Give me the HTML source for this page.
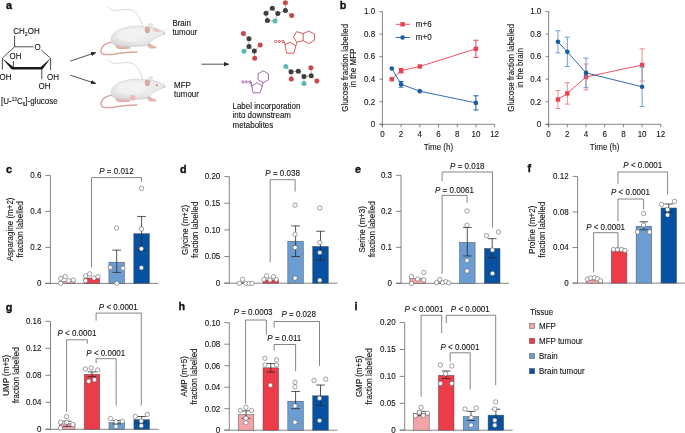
<!DOCTYPE html>
<html><head><meta charset="utf-8"><style>
html,body{margin:0;padding:0;background:#fff;overflow:hidden}
svg{display:block;will-change:transform}
text{font-family:"Liberation Sans",sans-serif;fill:#111;stroke:#111;stroke-width:0.1px}
</style></head><body>
<svg width="685" height="433" viewBox="0 0 685 433">


<defs><radialGradient id="mg" cx="0.5" cy="0.35" r="0.65"><stop offset="0" stop-color="#f0f0f0"/><stop offset="0.7" stop-color="#e8e8e8"/><stop offset="1" stop-color="#d9d9d9"/></radialGradient></defs><g id="mouse">
<path d="M107.7 6.5 C110 9 112 10.4 116 10.4 C120 10.4 124 9.2 129 9.6 C134 10.2 138 14 140 19 C141.5 22 142.3 25 142.8 27.5" fill="none" stroke="#c5cbce" stroke-width="0.7"/>
<path d="M111.8 42.2 C108 42.6 104 44.5 102 47.6 C100.2 50.5 100.6 53.3 103.5 54.2 C107 55 112 54.6 118 53.4 C125 52.2 131 51.8 136.8 51.9" fill="none" stroke="#d6a7a0" stroke-width="1.5" stroke-linecap="round"/>
<path d="M115.5 45 C115.5 47 117 48.8 120 48.9 C123 49 127 49 129.5 48.5 C130.5 48 130.3 47 129 46.3 Z" fill="#e3b6af" stroke="#cc9c95" stroke-width="0.4"/>
<path d="M147.5 44.5 C147.5 46.5 148.5 48 151 48.3 C153 48.5 155.5 48.2 156.5 47.6 C156.5 46.8 155 46.4 153.5 46 C152 45.3 150.5 44.5 149.5 43.5 Z" fill="#e3b6af" stroke="#cc9c95" stroke-width="0.4"/>
<path d="M111.2 41.5 C110.8 37 112.5 34 115.3 32.3 C118 30 121 28.8 124 28 C128 26.8 131 26.3 134 26.2 C138 26.1 141 26.4 144 26.8 C148 27.2 151 27.3 154 27.8 C157 28.5 160 29.5 162 30.8 C163.8 31.8 165.2 32.5 165.4 33 C165.2 33.8 163.5 34.6 161.3 35.4 C158.5 36.5 155.5 37.8 153.1 39.4 C151.2 40.8 150 42.2 149 43.5 C147 45.2 145 46 142.9 46.1 C139 46.4 135 46.6 130.7 46.6 C125 46.6 119 46.2 115.3 45.1 C112.8 44.3 111.5 43 111.2 41.5 Z" fill="url(#mg)" stroke="#c8c8c8" stroke-width="0.55"/>
<path d="M119 31.5 C125 28.5 135 28 142 29.5 C146 31 146.5 36 143 39 C137 42 126 42 120 39.5 C116.5 37.5 116.5 33.5 119 31.5 Z" fill="#f4f4f4" opacity="0.7"/>
<path d="M150 43 C152 40 155 37.8 159 36.5 C161.5 35.6 163.5 35 164.5 34.5" fill="none" stroke="#d8d8d8" stroke-width="0.5"/>
<ellipse cx="150.6" cy="25" rx="2.2" ry="1.5" fill="#e6e6e6" stroke="#c9c9c9" stroke-width="0.4"/>
<ellipse cx="147.4" cy="29.8" rx="2.4" ry="3.1" fill="#dba9a3" stroke="#c7948e" stroke-width="0.4"/>
<path d="M163.5 31 L168 28" stroke="#dadada" stroke-width="0.4"/>
</g>
<path d="M152.5 28.5 C155 28 158.5 29.5 160.5 31.5 C158 32.8 154.5 31.8 152.5 28.5 Z" fill="#e9b8b2" opacity="0.85"/><circle cx="163.8" cy="33.6" r="0.8" fill="#e5b0aa"/>
<use href="#mouse" transform="translate(0,53)"/>
<circle cx="132.7" cy="97.8" r="2.8" fill="#eebcb5"/>
<circle cx="156.8" cy="85.2" r="0.8" fill="#a83a3a"/><circle cx="164.8" cy="87" r="0.7" fill="#e5b0aa"/>
<text transform="translate(172.4,25.6) scale(0.95,1)" font-size="8.4">Brain</text>
<text transform="translate(172.4,34.6) scale(0.95,1)" font-size="8.4">tumour</text>
<text transform="translate(174.1,88.4) scale(0.95,1)" font-size="8.4">MFP</text>
<text transform="translate(174.1,97.2) scale(0.95,1)" font-size="8.4">tumour</text>
<text transform="translate(232.5,108.7) scale(0.95,1)" font-size="8.4">Label incorporation</text>
<text transform="translate(232.5,118.2) scale(0.95,1)" font-size="8.4">into downstream</text>
<text transform="translate(232.5,127.7) scale(0.95,1)" font-size="8.4">metabolites</text>
<!-- arrows -->
<defs><marker id="ah" markerWidth="6" markerHeight="6" refX="5" refY="3" orient="auto" markerUnits="userSpaceOnUse"><path d="M0 0.8 L5.5 3 L0 5.2 Z" fill="#222"/></marker></defs>
<line x1="70.4" y1="61.1" x2="95.8" y2="52.5" stroke="#222" stroke-width="0.8" marker-end="url(#ah)"/>
<line x1="70.4" y1="75.2" x2="95.8" y2="83.6" stroke="#222" stroke-width="0.8" marker-end="url(#ah)"/>
<line x1="201.5" y1="64.2" x2="228.8" y2="64.2" stroke="#222" stroke-width="0.8" marker-end="url(#ah)"/>
<!-- glucose -->
<text transform="translate(13.3,33.8) scale(0.95,1)" font-size="8.4">CH<tspan font-size="5.5" dy="2">2</tspan><tspan dy="-2">OH</tspan></text>
<path d="M14.6 35.8 V46.8 H33.5 M41.3 50 L50.6 58.3 V70 M50.6 58.3 M2.4 58 L14.6 46.8 M2.4 58 V69.5 M13.4 61 V67.5 M41.8 68.3 V79.3" fill="none" stroke="#222" stroke-width="0.8"/>
<path d="M2.2 58.2 L13.4 66.9 L11.6 69.5 Z M12 67.1 H42 V69.5 H12 Z M50.6 58.2 L42.4 69.5 L40.7 67.1 Z" fill="#1a1a1a"/>
<text transform="translate(34.4,50) scale(0.95,1)" font-size="8.4">O</text>
<text transform="translate(9.6,59.3) scale(0.95,1)" font-size="8.4">OH</text>
<text transform="translate(-0.5,80.4) scale(0.95,1)" font-size="8.4">OH</text>
<text transform="translate(47,79.5) scale(0.95,1)" font-size="8.4">OH</text>
<text transform="translate(38.5,89.3) scale(0.95,1)" font-size="8.4">OH</text>
<text transform="translate(1,104.3) scale(0.95,1)" font-size="8.4">[U-<tspan font-size="5" dy="-3">13</tspan><tspan dy="3">C</tspan><tspan font-size="5" dy="2">6</tspan><tspan dy="-2">]-glucose</tspan></text>

<line x1="272.3" y1="8.3" x2="266" y2="13.2" stroke="#b0a8a0" stroke-width="0.9"/><line x1="272.3" y1="8.3" x2="277.8" y2="13.6" stroke="#b0a8a0" stroke-width="0.9"/><line x1="266" y1="13.2" x2="267.4" y2="20.5" stroke="#b0a8a0" stroke-width="0.9"/><line x1="267.4" y1="20.5" x2="275" y2="21.1" stroke="#b0a8a0" stroke-width="0.9"/><line x1="275" y1="21.1" x2="277.8" y2="13.6" stroke="#b0a8a0" stroke-width="0.9"/><line x1="277.8" y1="13.6" x2="285.4" y2="10.4" stroke="#b0a8a0" stroke-width="0.9"/><line x1="285.4" y1="10.4" x2="285.4" y2="2.8" stroke="#b0a8a0" stroke-width="0.9"/><line x1="285.4" y1="10.4" x2="291.7" y2="15.5" stroke="#b0a8a0" stroke-width="0.9"/><circle cx="272.3" cy="8.3" r="2.5" fill="#3e3e3e"/><circle cx="266" cy="13.2" r="2.5" fill="#3e3e3e"/><circle cx="277.8" cy="13.6" r="2.5" fill="#3e3e3e"/><circle cx="267.4" cy="20.5" r="2.5" fill="#3e3e3e"/><circle cx="275" cy="21.1" r="2.5" fill="#5cbab4"/><circle cx="285.4" cy="10.4" r="2.5" fill="#3e3e3e"/><circle cx="285.4" cy="2.8" r="2.5" fill="#c9474a"/><circle cx="291.7" cy="15.5" r="2.5" fill="#c9474a"/><line x1="243.4" y1="33.5" x2="249" y2="38.8" stroke="#b0a8a0" stroke-width="0.9"/><line x1="249" y1="38.8" x2="249" y2="46.4" stroke="#b0a8a0" stroke-width="0.9"/><line x1="249" y1="46.4" x2="243.9" y2="51.3" stroke="#b0a8a0" stroke-width="0.9"/><line x1="249" y1="46.4" x2="254.3" y2="51" stroke="#b0a8a0" stroke-width="0.9"/><line x1="254.3" y1="51" x2="260.2" y2="45" stroke="#b0a8a0" stroke-width="0.9"/><line x1="254.3" y1="51" x2="254.7" y2="58.2" stroke="#b0a8a0" stroke-width="0.9"/><circle cx="243.4" cy="33.5" r="2.5" fill="#c9474a"/><circle cx="249" cy="38.8" r="2.5" fill="#3e3e3e"/><circle cx="249" cy="46.4" r="2.5" fill="#3e3e3e"/><circle cx="243.9" cy="51.3" r="2.5" fill="#5cbab4"/><circle cx="254.3" cy="51" r="2.5" fill="#3e3e3e"/><circle cx="260.2" cy="45" r="2.5" fill="#c9474a"/><circle cx="254.7" cy="58.2" r="2.5" fill="#c9474a"/><line x1="285.8" y1="66.6" x2="291" y2="71.8" stroke="#b0a8a0" stroke-width="0.9"/><line x1="291" y1="71.8" x2="291.3" y2="79" stroke="#b0a8a0" stroke-width="0.9"/><line x1="291" y1="71.8" x2="298.3" y2="71.3" stroke="#b0a8a0" stroke-width="0.9"/><line x1="298.3" y1="71.3" x2="304" y2="76.6" stroke="#b0a8a0" stroke-width="0.9"/><line x1="304" y1="76.6" x2="304" y2="83.4" stroke="#b0a8a0" stroke-width="0.9"/><line x1="304" y1="76.6" x2="311.2" y2="75.8" stroke="#b0a8a0" stroke-width="0.9"/><line x1="311.2" y1="75.8" x2="310.9" y2="67.7" stroke="#b0a8a0" stroke-width="0.9"/><line x1="311.2" y1="75.8" x2="316.9" y2="81.1" stroke="#b0a8a0" stroke-width="0.9"/><circle cx="285.8" cy="66.6" r="2.5" fill="#5cbab4"/><circle cx="291" cy="71.8" r="2.5" fill="#3e3e3e"/><circle cx="291.3" cy="79" r="2.5" fill="#c9474a"/><circle cx="298.3" cy="71.3" r="2.5" fill="#3e3e3e"/><circle cx="304" cy="76.6" r="2.5" fill="#3e3e3e"/><circle cx="304" cy="83.4" r="2.5" fill="#5cbab4"/><circle cx="311.2" cy="75.8" r="2.5" fill="#3e3e3e"/><circle cx="310.9" cy="67.7" r="2.5" fill="#c9474a"/><circle cx="316.9" cy="81.1" r="2.5" fill="#c9474a"/>

<g fill="none" stroke="#d24a44" stroke-width="0.9" stroke-linejoin="round">
<circle cx="275.7" cy="41.5" r="1.1"/><circle cx="279.2" cy="41.5" r="1.1"/><circle cx="282.9" cy="41.5" r="1.1"/>
<path d="M284 41.5 L285 44.3 M285 44.3 L290.2 42.3 L295.9 45.9 L293.9 53.2 L286.6 53.2 Z M295.9 45.9 L296.7 42.3 M296.7 42.3 L293.5 37 L296.7 31.6 L303.2 33.7 L303.2 40.7 Z M303.2 33.7 L308.8 31 L314.5 34.2 L314.5 40.2 L308.8 43.5 L303.2 40.7"/>
</g>
<g fill="none" stroke="#9c5aa8" stroke-width="0.9" stroke-linejoin="round">
<circle cx="242.9" cy="81.9" r="1.1"/><circle cx="246.3" cy="81.9" r="1.1"/><circle cx="249.8" cy="81.9" r="1.1"/>
<path d="M250.9 81.9 L251.5 86.3 L257 82.6 L262.3 86.3 L260.1 92.8 L253 92.8 Z M262.3 86.3 L263.2 82.6 M263.2 82.6 L268.5 79.9 L268.5 73.7 L263.2 70.9 L258.1 73.7 L258.1 79.9 Z"/>
</g>

<text x="5.9" y="8.549999999999999" font-size="10.8" font-weight="bold" style="stroke-width:0.35px">a</text>
<text x="339.8" y="8.549999999999999" font-size="10.8" font-weight="bold" style="stroke-width:0.35px">b</text>
<text x="5.9" y="172.54999999999998" font-size="10.8" font-weight="bold" style="stroke-width:0.35px">c</text>
<text x="179.9" y="172.54999999999998" font-size="10.8" font-weight="bold" style="stroke-width:0.35px">d</text>
<text x="354.9" y="172.54999999999998" font-size="10.8" font-weight="bold" style="stroke-width:0.35px">e</text>
<text x="527.5" y="171.85" font-size="10.8" font-weight="bold" style="stroke-width:0.35px">f</text>
<text x="5.8" y="310.55" font-size="10.8" font-weight="bold" style="stroke-width:0.35px">g</text>
<text x="178.6" y="310.15000000000003" font-size="10.8" font-weight="bold" style="stroke-width:0.35px">h</text>
<text x="354.5" y="310.15000000000003" font-size="10.8" font-weight="bold" style="stroke-width:0.35px">i</text>
<line x1="50.4" y1="175.4" x2="50.4" y2="283.4" stroke="#666" stroke-width="0.8"/>
<line x1="45.4" y1="283.4" x2="158.4" y2="283.4" stroke="#666" stroke-width="0.8"/>
<line x1="45.4" y1="283.4" x2="50.4" y2="283.4" stroke="#666" stroke-width="0.8"/>
<text transform="translate(41.4,286.2) scale(0.91,1)" font-size="8.8" text-anchor="end" >0</text>
<line x1="45.4" y1="247.4" x2="50.4" y2="247.4" stroke="#666" stroke-width="0.8"/>
<text transform="translate(41.4,250.2) scale(0.91,1)" font-size="8.8" text-anchor="end" >0.2</text>
<line x1="45.4" y1="211.4" x2="50.4" y2="211.4" stroke="#666" stroke-width="0.8"/>
<text transform="translate(41.4,214.2) scale(0.91,1)" font-size="8.8" text-anchor="end" >0.4</text>
<line x1="45.4" y1="175.4" x2="50.4" y2="175.4" stroke="#666" stroke-width="0.8"/>
<text transform="translate(41.4,178.2) scale(0.91,1)" font-size="8.8" text-anchor="end" >0.6</text>
<text transform="translate(12.6,229.4) rotate(-90) scale(0.91,1)" font-size="8.8" text-anchor="middle"><tspan x="0" y="0">Asparagine (m+2)</tspan><tspan x="0" y="10">fraction labelled</tspan></text>
<rect x="59.3" y="281.51" width="15.6" height="1.89" fill="#f3a3aa" stroke="#555" stroke-width="0.5"/>
<rect x="84.1" y="278" width="15.6" height="5.4" fill="#ec3b49" stroke="#555" stroke-width="0.5"/>
<rect x="108.9" y="262.16" width="15.6" height="21.24" fill="#6b9dd2" stroke="#555" stroke-width="0.5"/>
<rect x="133.8" y="233.72" width="15.6" height="49.68" fill="#0751a3" stroke="#555" stroke-width="0.5"/>
<line x1="116.7" y1="272.42" x2="116.7" y2="250.1" stroke="#2a2a2a" stroke-width="0.8"/>
<line x1="112.4" y1="272.42" x2="121" y2="272.42" stroke="#2a2a2a" stroke-width="0.8"/>
<line x1="112.4" y1="250.1" x2="121" y2="250.1" stroke="#2a2a2a" stroke-width="0.8"/>
<line x1="141.6" y1="250.46" x2="141.6" y2="216.44" stroke="#2a2a2a" stroke-width="0.8"/>
<line x1="137.3" y1="250.46" x2="145.9" y2="250.46" stroke="#2a2a2a" stroke-width="0.8"/>
<line x1="137.3" y1="216.44" x2="145.9" y2="216.44" stroke="#2a2a2a" stroke-width="0.8"/>
<circle cx="60.7" cy="278.4" r="2.2" fill="#fff" stroke="#555" stroke-width="0.55"/>
<circle cx="65.2" cy="276.6" r="2.2" fill="#fff" stroke="#555" stroke-width="0.55"/>
<circle cx="68.8" cy="280.7" r="2.2" fill="#fff" stroke="#555" stroke-width="0.55"/>
<circle cx="73.3" cy="280.1" r="2.2" fill="#fff" stroke="#555" stroke-width="0.55"/>
<circle cx="60.7" cy="283.3" r="2.2" fill="#fff" stroke="#555" stroke-width="0.55"/>
<circle cx="85.6" cy="276" r="2.2" fill="#fff" stroke="#555" stroke-width="0.55"/>
<circle cx="89.7" cy="273.9" r="2.2" fill="#fff" stroke="#555" stroke-width="0.55"/>
<circle cx="94" cy="278" r="2.2" fill="#fff" stroke="#555" stroke-width="0.55"/>
<circle cx="98" cy="276.6" r="2.2" fill="#fff" stroke="#555" stroke-width="0.55"/>
<circle cx="85.6" cy="280.7" r="2.2" fill="#fff" stroke="#555" stroke-width="0.55"/>
<circle cx="110.3" cy="267.4" r="2.2" fill="#fff" stroke="#555" stroke-width="0.55"/>
<circle cx="123" cy="268.2" r="2.2" fill="#fff" stroke="#555" stroke-width="0.55"/>
<circle cx="116.9" cy="283.3" r="2.2" fill="#fff" stroke="#555" stroke-width="0.55"/>
<circle cx="116.6" cy="228" r="2.2" fill="#fff" stroke="#555" stroke-width="0.55"/>
<circle cx="141.5" cy="188.3" r="2.2" fill="#fff" stroke="#555" stroke-width="0.55"/>
<circle cx="141.5" cy="228.9" r="2.2" fill="#fff" stroke="#555" stroke-width="0.55"/>
<circle cx="141.4" cy="248.8" r="2.2" fill="#fff" stroke="#555" stroke-width="0.55"/>
<circle cx="141.4" cy="267.8" r="2.2" fill="#fff" stroke="#555" stroke-width="0.55"/>
<path d="M91.5 267.5V177.6H141.5V181.6" fill="none" stroke="#666" stroke-width="0.8"/>
<text transform="translate(116.5,173.9) scale(0.91,1)" font-size="8.8" text-anchor="middle" ><tspan font-style="italic">P</tspan> = 0.012</text>
<line x1="229.3" y1="176.6" x2="229.3" y2="283.2" stroke="#666" stroke-width="0.8"/>
<line x1="224.3" y1="283.2" x2="337.3" y2="283.2" stroke="#666" stroke-width="0.8"/>
<line x1="224.3" y1="283.2" x2="229.3" y2="283.2" stroke="#666" stroke-width="0.8"/>
<text transform="translate(220.3,286) scale(0.91,1)" font-size="8.8" text-anchor="end" >0</text>
<line x1="224.3" y1="256.55" x2="229.3" y2="256.55" stroke="#666" stroke-width="0.8"/>
<text transform="translate(220.3,259.35) scale(0.91,1)" font-size="8.8" text-anchor="end" >0.05</text>
<line x1="224.3" y1="229.9" x2="229.3" y2="229.9" stroke="#666" stroke-width="0.8"/>
<text transform="translate(220.3,232.7) scale(0.91,1)" font-size="8.8" text-anchor="end" >0.10</text>
<line x1="224.3" y1="203.25" x2="229.3" y2="203.25" stroke="#666" stroke-width="0.8"/>
<text transform="translate(220.3,206.05) scale(0.91,1)" font-size="8.8" text-anchor="end" >0.15</text>
<line x1="224.3" y1="176.6" x2="229.3" y2="176.6" stroke="#666" stroke-width="0.8"/>
<text transform="translate(220.3,179.4) scale(0.91,1)" font-size="8.8" text-anchor="end" >0.20</text>
<text transform="translate(187.8,229.9) rotate(-90) scale(0.91,1)" font-size="8.8" text-anchor="middle"><tspan x="0" y="0">Glycine (m+2)</tspan><tspan x="0" y="10">fraction labelled</tspan></text>
<rect x="238.2" y="282.67" width="15.6" height="0.53" fill="#f3a3aa" stroke="#555" stroke-width="0.5"/>
<rect x="263" y="280" width="15.6" height="3.2" fill="#ec3b49" stroke="#555" stroke-width="0.5"/>
<rect x="287.8" y="241.2" width="15.6" height="42" fill="#6b9dd2" stroke="#555" stroke-width="0.5"/>
<rect x="312.7" y="246.42" width="15.6" height="36.78" fill="#0751a3" stroke="#555" stroke-width="0.5"/>
<line x1="295.6" y1="256.55" x2="295.6" y2="225.9" stroke="#2a2a2a" stroke-width="0.8"/>
<line x1="291.3" y1="256.55" x2="299.9" y2="256.55" stroke="#2a2a2a" stroke-width="0.8"/>
<line x1="291.3" y1="225.9" x2="299.9" y2="225.9" stroke="#2a2a2a" stroke-width="0.8"/>
<line x1="320.5" y1="260.28" x2="320.5" y2="231.23" stroke="#2a2a2a" stroke-width="0.8"/>
<line x1="316.2" y1="260.28" x2="324.8" y2="260.28" stroke="#2a2a2a" stroke-width="0.8"/>
<line x1="316.2" y1="231.23" x2="324.8" y2="231.23" stroke="#2a2a2a" stroke-width="0.8"/>
<circle cx="239.3" cy="283.4" r="2.2" fill="#fff" stroke="#555" stroke-width="0.55"/>
<circle cx="242.6" cy="279.3" r="2.2" fill="#fff" stroke="#555" stroke-width="0.55"/>
<circle cx="245.9" cy="283.4" r="2.2" fill="#fff" stroke="#555" stroke-width="0.55"/>
<circle cx="249.2" cy="283.4" r="2.2" fill="#fff" stroke="#555" stroke-width="0.55"/>
<circle cx="252.2" cy="283.4" r="2.2" fill="#fff" stroke="#555" stroke-width="0.55"/>
<circle cx="266.6" cy="275.9" r="2.2" fill="#fff" stroke="#555" stroke-width="0.55"/>
<circle cx="273.5" cy="276.7" r="2.2" fill="#fff" stroke="#555" stroke-width="0.55"/>
<circle cx="263.8" cy="279.5" r="2.2" fill="#fff" stroke="#555" stroke-width="0.55"/>
<circle cx="276.3" cy="279.5" r="2.2" fill="#fff" stroke="#555" stroke-width="0.55"/>
<circle cx="270" cy="280" r="2.2" fill="#fff" stroke="#555" stroke-width="0.55"/>
<circle cx="295.1" cy="205.2" r="2.2" fill="#fff" stroke="#555" stroke-width="0.55"/>
<circle cx="295.1" cy="234.3" r="2.2" fill="#fff" stroke="#555" stroke-width="0.55"/>
<circle cx="295.1" cy="247.6" r="2.2" fill="#fff" stroke="#555" stroke-width="0.55"/>
<circle cx="295.1" cy="278.1" r="2.2" fill="#fff" stroke="#555" stroke-width="0.55"/>
<circle cx="319.8" cy="208" r="2.2" fill="#fff" stroke="#555" stroke-width="0.55"/>
<circle cx="319.8" cy="242.6" r="2.2" fill="#fff" stroke="#555" stroke-width="0.55"/>
<circle cx="319.8" cy="252.6" r="2.2" fill="#fff" stroke="#555" stroke-width="0.55"/>
<circle cx="319.8" cy="280.3" r="2.2" fill="#fff" stroke="#555" stroke-width="0.55"/>
<path d="M270.2 262.3V179.7H295.1V191.6" fill="none" stroke="#666" stroke-width="0.8"/>
<text transform="translate(282.6,176.1) scale(0.91,1)" font-size="8.8" text-anchor="middle" ><tspan font-style="italic">P</tspan> = 0.038</text>
<line x1="401" y1="175.3" x2="401" y2="283.3" stroke="#666" stroke-width="0.8"/>
<line x1="396" y1="283.3" x2="509" y2="283.3" stroke="#666" stroke-width="0.8"/>
<line x1="396" y1="283.3" x2="401" y2="283.3" stroke="#666" stroke-width="0.8"/>
<text transform="translate(392,286.1) scale(0.91,1)" font-size="8.8" text-anchor="end" >0</text>
<line x1="396" y1="247.3" x2="401" y2="247.3" stroke="#666" stroke-width="0.8"/>
<text transform="translate(392,250.1) scale(0.91,1)" font-size="8.8" text-anchor="end" >0.1</text>
<line x1="396" y1="211.3" x2="401" y2="211.3" stroke="#666" stroke-width="0.8"/>
<text transform="translate(392,214.1) scale(0.91,1)" font-size="8.8" text-anchor="end" >0.2</text>
<line x1="396" y1="175.3" x2="401" y2="175.3" stroke="#666" stroke-width="0.8"/>
<text transform="translate(392,178.1) scale(0.91,1)" font-size="8.8" text-anchor="end" >0.3</text>
<text transform="translate(364.8,229.3) rotate(-90) scale(0.91,1)" font-size="8.8" text-anchor="middle"><tspan x="0" y="0">Serine (m+3)</tspan><tspan x="0" y="10">fraction labelled</tspan></text>
<rect x="409.9" y="278.4" width="15.6" height="4.9" fill="#f3a3aa" stroke="#555" stroke-width="0.5"/>
<rect x="434.7" y="282.94" width="15.6" height="0.36" fill="#ec3b49" stroke="#555" stroke-width="0.5"/>
<rect x="459.5" y="242.4" width="15.6" height="40.9" fill="#6b9dd2" stroke="#555" stroke-width="0.5"/>
<rect x="484.4" y="248.38" width="15.6" height="34.92" fill="#0751a3" stroke="#555" stroke-width="0.5"/>
<line x1="467.3" y1="255.94" x2="467.3" y2="227.5" stroke="#2a2a2a" stroke-width="0.8"/>
<line x1="463" y1="255.94" x2="471.6" y2="255.94" stroke="#2a2a2a" stroke-width="0.8"/>
<line x1="463" y1="227.5" x2="471.6" y2="227.5" stroke="#2a2a2a" stroke-width="0.8"/>
<line x1="492.2" y1="257.74" x2="492.2" y2="238.66" stroke="#2a2a2a" stroke-width="0.8"/>
<line x1="487.9" y1="257.74" x2="496.5" y2="257.74" stroke="#2a2a2a" stroke-width="0.8"/>
<line x1="487.9" y1="238.66" x2="496.5" y2="238.66" stroke="#2a2a2a" stroke-width="0.8"/>
<circle cx="411.5" cy="276.5" r="2.2" fill="#fff" stroke="#555" stroke-width="0.55"/>
<circle cx="417.6" cy="279.1" r="2.2" fill="#fff" stroke="#555" stroke-width="0.55"/>
<circle cx="423.9" cy="272.5" r="2.2" fill="#fff" stroke="#555" stroke-width="0.55"/>
<circle cx="423.9" cy="280" r="2.2" fill="#fff" stroke="#555" stroke-width="0.55"/>
<circle cx="411.5" cy="283.5" r="2.2" fill="#fff" stroke="#555" stroke-width="0.55"/>
<circle cx="436.6" cy="282.6" r="2.2" fill="#fff" stroke="#555" stroke-width="0.55"/>
<circle cx="439.7" cy="279.5" r="2.2" fill="#fff" stroke="#555" stroke-width="0.55"/>
<circle cx="442.7" cy="282.6" r="2.2" fill="#fff" stroke="#555" stroke-width="0.55"/>
<circle cx="445.8" cy="281.7" r="2.2" fill="#fff" stroke="#555" stroke-width="0.55"/>
<circle cx="448.9" cy="283" r="2.2" fill="#fff" stroke="#555" stroke-width="0.55"/>
<circle cx="467" cy="211" r="2.2" fill="#fff" stroke="#555" stroke-width="0.55"/>
<circle cx="467" cy="225.1" r="2.2" fill="#fff" stroke="#555" stroke-width="0.55"/>
<circle cx="467" cy="260.5" r="2.2" fill="#fff" stroke="#555" stroke-width="0.55"/>
<circle cx="467" cy="271" r="2.2" fill="#fff" stroke="#555" stroke-width="0.55"/>
<circle cx="486.5" cy="235.6" r="2.2" fill="#fff" stroke="#555" stroke-width="0.55"/>
<circle cx="498.5" cy="232" r="2.2" fill="#fff" stroke="#555" stroke-width="0.55"/>
<circle cx="492.5" cy="250" r="2.2" fill="#fff" stroke="#555" stroke-width="0.55"/>
<circle cx="492.5" cy="273.4" r="2.2" fill="#fff" stroke="#555" stroke-width="0.55"/>
<path d="M442.1 181V172H492.5V227.5" fill="none" stroke="#666" stroke-width="0.8"/>
<text transform="translate(467.3,169) scale(0.91,1)" font-size="8.8" text-anchor="middle" ><tspan font-style="italic">P</tspan> = 0.018</text>
<path d="M442.1 273.5V195.4H467V202.9" fill="none" stroke="#666" stroke-width="0.8"/>
<text transform="translate(454.5,192.7) scale(0.91,1)" font-size="8.8" text-anchor="middle" ><tspan font-style="italic">P</tspan> = 0.0061</text>
<line x1="577.6" y1="176.42" x2="577.6" y2="283.1" stroke="#666" stroke-width="0.8"/>
<line x1="572.6" y1="283.1" x2="685" y2="283.1" stroke="#666" stroke-width="0.8"/>
<line x1="572.6" y1="283.1" x2="577.6" y2="283.1" stroke="#666" stroke-width="0.8"/>
<text transform="translate(568.6,285.9) scale(0.91,1)" font-size="8.8" text-anchor="end" >0</text>
<line x1="572.6" y1="247.54" x2="577.6" y2="247.54" stroke="#666" stroke-width="0.8"/>
<text transform="translate(568.6,250.34) scale(0.91,1)" font-size="8.8" text-anchor="end" >0.04</text>
<line x1="572.6" y1="211.98" x2="577.6" y2="211.98" stroke="#666" stroke-width="0.8"/>
<text transform="translate(568.6,214.78) scale(0.91,1)" font-size="8.8" text-anchor="end" >0.08</text>
<line x1="572.6" y1="176.42" x2="577.6" y2="176.42" stroke="#666" stroke-width="0.8"/>
<text transform="translate(568.6,179.22) scale(0.91,1)" font-size="8.8" text-anchor="end" >0.12</text>
<text transform="translate(535,229.76) rotate(-90) scale(0.91,1)" font-size="8.8" text-anchor="middle"><tspan x="0" y="0">Proline (m+2)</tspan><tspan x="0" y="9.6">fraction labelled</tspan></text>
<rect x="586.5" y="279.99" width="15.6" height="3.11" fill="#f3a3aa" stroke="#555" stroke-width="0.5"/>
<rect x="611.3" y="250.65" width="15.6" height="32.45" fill="#ec3b49" stroke="#555" stroke-width="0.5"/>
<rect x="636.1" y="226.2" width="15.6" height="56.9" fill="#6b9dd2" stroke="#555" stroke-width="0.5"/>
<rect x="661" y="207.98" width="15.6" height="75.12" fill="#0751a3" stroke="#555" stroke-width="0.5"/>
<line x1="643.9" y1="229.76" x2="643.9" y2="221.76" stroke="#2a2a2a" stroke-width="0.8"/>
<line x1="639.6" y1="229.76" x2="648.2" y2="229.76" stroke="#2a2a2a" stroke-width="0.8"/>
<line x1="639.6" y1="221.76" x2="648.2" y2="221.76" stroke="#2a2a2a" stroke-width="0.8"/>
<line x1="668.8" y1="211.98" x2="668.8" y2="203.98" stroke="#2a2a2a" stroke-width="0.8"/>
<line x1="664.5" y1="211.98" x2="673.1" y2="211.98" stroke="#2a2a2a" stroke-width="0.8"/>
<line x1="664.5" y1="203.98" x2="673.1" y2="203.98" stroke="#2a2a2a" stroke-width="0.8"/>
<circle cx="587.3" cy="279.1" r="2.2" fill="#fff" stroke="#555" stroke-width="0.55"/>
<circle cx="590.8" cy="278" r="2.2" fill="#fff" stroke="#555" stroke-width="0.55"/>
<circle cx="594.3" cy="277.8" r="2.2" fill="#fff" stroke="#555" stroke-width="0.55"/>
<circle cx="597.4" cy="278.8" r="2.2" fill="#fff" stroke="#555" stroke-width="0.55"/>
<circle cx="600.5" cy="280.8" r="2.2" fill="#fff" stroke="#555" stroke-width="0.55"/>
<circle cx="613.5" cy="249.5" r="2.2" fill="#fff" stroke="#555" stroke-width="0.55"/>
<circle cx="617.5" cy="249.5" r="2.2" fill="#fff" stroke="#555" stroke-width="0.55"/>
<circle cx="621.5" cy="249.5" r="2.2" fill="#fff" stroke="#555" stroke-width="0.55"/>
<circle cx="625" cy="250.5" r="2.2" fill="#fff" stroke="#555" stroke-width="0.55"/>
<circle cx="643.6" cy="213.5" r="2.2" fill="#fff" stroke="#555" stroke-width="0.55"/>
<circle cx="637.6" cy="232" r="2.2" fill="#fff" stroke="#555" stroke-width="0.55"/>
<circle cx="649.6" cy="232" r="2.2" fill="#fff" stroke="#555" stroke-width="0.55"/>
<circle cx="643.6" cy="225" r="2.2" fill="#fff" stroke="#555" stroke-width="0.55"/>
<circle cx="661.6" cy="204.4" r="2.2" fill="#fff" stroke="#555" stroke-width="0.55"/>
<circle cx="674.5" cy="201.4" r="2.2" fill="#fff" stroke="#555" stroke-width="0.55"/>
<circle cx="667.6" cy="209.5" r="2.2" fill="#fff" stroke="#555" stroke-width="0.55"/>
<circle cx="667.6" cy="215" r="2.2" fill="#fff" stroke="#555" stroke-width="0.55"/>
<path d="M593.6 272.5V232.7H618V248.6" fill="none" stroke="#666" stroke-width="0.8"/>
<text transform="translate(605.6,230.3) scale(0.91,1)" font-size="8.8" text-anchor="middle" ><tspan font-style="italic">P</tspan> &lt; 0.0001</text>
<path d="M618 221V199H643.6V209.5" fill="none" stroke="#666" stroke-width="0.8"/>
<text transform="translate(630.5,195.1) scale(0.91,1)" font-size="8.8" text-anchor="middle" ><tspan font-style="italic">P</tspan> &lt; 0.0001</text>
<path d="M618 184V172H667.6V194.5" fill="none" stroke="#666" stroke-width="0.8"/>
<text transform="translate(642.8,168.1) scale(0.91,1)" font-size="8.8" text-anchor="middle" ><tspan font-style="italic">P</tspan> &lt; 0.0001</text>
<line x1="50.5" y1="321.3" x2="50.5" y2="429.3" stroke="#666" stroke-width="0.8"/>
<line x1="45.5" y1="429.3" x2="158.5" y2="429.3" stroke="#666" stroke-width="0.8"/>
<line x1="45.5" y1="429.3" x2="50.5" y2="429.3" stroke="#666" stroke-width="0.8"/>
<text transform="translate(41.5,432.1) scale(0.91,1)" font-size="8.8" text-anchor="end" >0</text>
<line x1="45.5" y1="402.3" x2="50.5" y2="402.3" stroke="#666" stroke-width="0.8"/>
<text transform="translate(41.5,405.1) scale(0.91,1)" font-size="8.8" text-anchor="end" >0.04</text>
<line x1="45.5" y1="375.3" x2="50.5" y2="375.3" stroke="#666" stroke-width="0.8"/>
<text transform="translate(41.5,378.1) scale(0.91,1)" font-size="8.8" text-anchor="end" >0.08</text>
<line x1="45.5" y1="348.3" x2="50.5" y2="348.3" stroke="#666" stroke-width="0.8"/>
<text transform="translate(41.5,351.1) scale(0.91,1)" font-size="8.8" text-anchor="end" >0.12</text>
<line x1="45.5" y1="321.3" x2="50.5" y2="321.3" stroke="#666" stroke-width="0.8"/>
<text transform="translate(41.5,324.1) scale(0.91,1)" font-size="8.8" text-anchor="end" >0.16</text>
<text transform="translate(8.6,375.3) rotate(-90) scale(0.91,1)" font-size="8.8" text-anchor="middle"><tspan x="0" y="0">UMP (m+5)</tspan><tspan x="0" y="10">fraction labelled</tspan></text>
<rect x="59.4" y="423.9" width="15.6" height="5.4" fill="#f3a3aa" stroke="#555" stroke-width="0.5"/>
<rect x="84.2" y="374.29" width="15.6" height="55.01" fill="#ec3b49" stroke="#555" stroke-width="0.5"/>
<rect x="109" y="422.55" width="15.6" height="6.75" fill="#6b9dd2" stroke="#555" stroke-width="0.5"/>
<rect x="133.9" y="419.65" width="15.6" height="9.65" fill="#0751a3" stroke="#555" stroke-width="0.5"/>
<line x1="67.2" y1="426.6" x2="67.2" y2="421.2" stroke="#2a2a2a" stroke-width="0.8"/>
<line x1="62.9" y1="426.6" x2="71.5" y2="426.6" stroke="#2a2a2a" stroke-width="0.8"/>
<line x1="62.9" y1="421.2" x2="71.5" y2="421.2" stroke="#2a2a2a" stroke-width="0.8"/>
<line x1="92" y1="376.65" x2="92" y2="371.93" stroke="#2a2a2a" stroke-width="0.8"/>
<line x1="87.7" y1="376.65" x2="96.3" y2="376.65" stroke="#2a2a2a" stroke-width="0.8"/>
<line x1="87.7" y1="371.93" x2="96.3" y2="371.93" stroke="#2a2a2a" stroke-width="0.8"/>
<line x1="116.8" y1="423.9" x2="116.8" y2="420.53" stroke="#2a2a2a" stroke-width="0.8"/>
<line x1="112.5" y1="423.9" x2="121.1" y2="423.9" stroke="#2a2a2a" stroke-width="0.8"/>
<line x1="112.5" y1="420.53" x2="121.1" y2="420.53" stroke="#2a2a2a" stroke-width="0.8"/>
<line x1="141.7" y1="422.55" x2="141.7" y2="416.48" stroke="#2a2a2a" stroke-width="0.8"/>
<line x1="137.4" y1="422.55" x2="146" y2="422.55" stroke="#2a2a2a" stroke-width="0.8"/>
<line x1="137.4" y1="416.48" x2="146" y2="416.48" stroke="#2a2a2a" stroke-width="0.8"/>
<circle cx="60.5" cy="422.3" r="2.2" fill="#fff" stroke="#555" stroke-width="0.55"/>
<circle cx="66.6" cy="416.6" r="2.2" fill="#fff" stroke="#555" stroke-width="0.55"/>
<circle cx="66.8" cy="422.3" r="2.2" fill="#fff" stroke="#555" stroke-width="0.55"/>
<circle cx="72.9" cy="424.5" r="2.2" fill="#fff" stroke="#555" stroke-width="0.55"/>
<circle cx="60.5" cy="428" r="2.2" fill="#fff" stroke="#555" stroke-width="0.55"/>
<circle cx="85.4" cy="369" r="2.2" fill="#fff" stroke="#555" stroke-width="0.55"/>
<circle cx="91.2" cy="368" r="2.2" fill="#fff" stroke="#555" stroke-width="0.55"/>
<circle cx="97.7" cy="370" r="2.2" fill="#fff" stroke="#555" stroke-width="0.55"/>
<circle cx="88.7" cy="381.3" r="2.2" fill="#fff" stroke="#555" stroke-width="0.55"/>
<circle cx="94.5" cy="379.7" r="2.2" fill="#fff" stroke="#555" stroke-width="0.55"/>
<circle cx="110.5" cy="418.5" r="2.2" fill="#fff" stroke="#555" stroke-width="0.55"/>
<circle cx="116" cy="421.7" r="2.2" fill="#fff" stroke="#555" stroke-width="0.55"/>
<circle cx="122.4" cy="421.3" r="2.2" fill="#fff" stroke="#555" stroke-width="0.55"/>
<circle cx="116" cy="426.5" r="2.2" fill="#fff" stroke="#555" stroke-width="0.55"/>
<circle cx="135.3" cy="416.5" r="2.2" fill="#fff" stroke="#555" stroke-width="0.55"/>
<circle cx="147.3" cy="414.5" r="2.2" fill="#fff" stroke="#555" stroke-width="0.55"/>
<circle cx="141.3" cy="425.7" r="2.2" fill="#fff" stroke="#555" stroke-width="0.55"/>
<circle cx="141.3" cy="421" r="2.2" fill="#fff" stroke="#555" stroke-width="0.55"/>
<path d="M96.1 320.7V313.1H141.3V405.5" fill="none" stroke="#666" stroke-width="0.8"/>
<text transform="translate(118.3,310.2) scale(0.91,1)" font-size="8.8" text-anchor="middle" ><tspan font-style="italic">P</tspan> &lt; 0.0001</text>
<path d="M66.6 412V339.8H87.3V343.8" fill="none" stroke="#666" stroke-width="0.8"/>
<text transform="translate(76.9,336.2) scale(0.91,1)" font-size="8.8" text-anchor="middle" ><tspan font-style="italic">P</tspan> &lt; 0.0001</text>
<path d="M96.1 363V358.7H116.2V405.5" fill="none" stroke="#666" stroke-width="0.8"/>
<text transform="translate(105.8,356.3) scale(0.91,1)" font-size="8.8" text-anchor="middle" ><tspan font-style="italic">P</tspan> &lt; 0.0001</text>
<line x1="229.3" y1="322.7" x2="229.3" y2="430.2" stroke="#666" stroke-width="0.8"/>
<line x1="224.3" y1="430.2" x2="337.3" y2="430.2" stroke="#666" stroke-width="0.8"/>
<line x1="224.3" y1="430.2" x2="229.3" y2="430.2" stroke="#666" stroke-width="0.8"/>
<text transform="translate(220.3,433) scale(0.91,1)" font-size="8.8" text-anchor="end" >0</text>
<line x1="224.3" y1="408.7" x2="229.3" y2="408.7" stroke="#666" stroke-width="0.8"/>
<text transform="translate(220.3,411.5) scale(0.91,1)" font-size="8.8" text-anchor="end" >0.02</text>
<line x1="224.3" y1="387.2" x2="229.3" y2="387.2" stroke="#666" stroke-width="0.8"/>
<text transform="translate(220.3,390) scale(0.91,1)" font-size="8.8" text-anchor="end" >0.04</text>
<line x1="224.3" y1="365.7" x2="229.3" y2="365.7" stroke="#666" stroke-width="0.8"/>
<text transform="translate(220.3,368.5) scale(0.91,1)" font-size="8.8" text-anchor="end" >0.06</text>
<line x1="224.3" y1="344.2" x2="229.3" y2="344.2" stroke="#666" stroke-width="0.8"/>
<text transform="translate(220.3,347) scale(0.91,1)" font-size="8.8" text-anchor="end" >0.08</text>
<line x1="224.3" y1="322.7" x2="229.3" y2="322.7" stroke="#666" stroke-width="0.8"/>
<text transform="translate(220.3,325.5) scale(0.91,1)" font-size="8.8" text-anchor="end" >0.10</text>
<text transform="translate(187.1,376.45) rotate(-90) scale(0.91,1)" font-size="8.8" text-anchor="middle"><tspan x="0" y="0">AMP (m+5)</tspan><tspan x="0" y="9.8">fraction labelled</tspan></text>
<rect x="238.2" y="414.61" width="15.6" height="15.59" fill="#f3a3aa" stroke="#555" stroke-width="0.5"/>
<rect x="263" y="367.85" width="15.6" height="62.35" fill="#ec3b49" stroke="#555" stroke-width="0.5"/>
<rect x="287.8" y="401.18" width="15.6" height="29.02" fill="#6b9dd2" stroke="#555" stroke-width="0.5"/>
<rect x="312.7" y="395.8" width="15.6" height="34.4" fill="#0751a3" stroke="#555" stroke-width="0.5"/>
<line x1="246" y1="418.38" x2="246" y2="410.85" stroke="#2a2a2a" stroke-width="0.8"/>
<line x1="241.7" y1="418.38" x2="250.3" y2="418.38" stroke="#2a2a2a" stroke-width="0.8"/>
<line x1="241.7" y1="410.85" x2="250.3" y2="410.85" stroke="#2a2a2a" stroke-width="0.8"/>
<line x1="270.8" y1="372.15" x2="270.8" y2="363.55" stroke="#2a2a2a" stroke-width="0.8"/>
<line x1="266.5" y1="372.15" x2="275.1" y2="372.15" stroke="#2a2a2a" stroke-width="0.8"/>
<line x1="266.5" y1="363.55" x2="275.1" y2="363.55" stroke="#2a2a2a" stroke-width="0.8"/>
<line x1="295.6" y1="408.7" x2="295.6" y2="391.5" stroke="#2a2a2a" stroke-width="0.8"/>
<line x1="291.3" y1="408.7" x2="299.9" y2="408.7" stroke="#2a2a2a" stroke-width="0.8"/>
<line x1="291.3" y1="391.5" x2="299.9" y2="391.5" stroke="#2a2a2a" stroke-width="0.8"/>
<line x1="320.5" y1="405.47" x2="320.5" y2="385.05" stroke="#2a2a2a" stroke-width="0.8"/>
<line x1="316.2" y1="405.47" x2="324.8" y2="405.47" stroke="#2a2a2a" stroke-width="0.8"/>
<line x1="316.2" y1="385.05" x2="324.8" y2="385.05" stroke="#2a2a2a" stroke-width="0.8"/>
<circle cx="240.3" cy="410.5" r="2.2" fill="#fff" stroke="#555" stroke-width="0.55"/>
<circle cx="245.9" cy="407.4" r="2.2" fill="#fff" stroke="#555" stroke-width="0.55"/>
<circle cx="251.5" cy="410.5" r="2.2" fill="#fff" stroke="#555" stroke-width="0.55"/>
<circle cx="245.9" cy="418.2" r="2.2" fill="#fff" stroke="#555" stroke-width="0.55"/>
<circle cx="245.9" cy="422.8" r="2.2" fill="#fff" stroke="#555" stroke-width="0.55"/>
<circle cx="264.9" cy="358.3" r="2.2" fill="#fff" stroke="#555" stroke-width="0.55"/>
<circle cx="276.6" cy="359.9" r="2.2" fill="#fff" stroke="#555" stroke-width="0.55"/>
<circle cx="264.9" cy="365" r="2.2" fill="#fff" stroke="#555" stroke-width="0.55"/>
<circle cx="276.6" cy="365" r="2.2" fill="#fff" stroke="#555" stroke-width="0.55"/>
<circle cx="270.4" cy="385.3" r="2.2" fill="#fff" stroke="#555" stroke-width="0.55"/>
<circle cx="295" cy="382.3" r="2.2" fill="#fff" stroke="#555" stroke-width="0.55"/>
<circle cx="295" cy="386.9" r="2.2" fill="#fff" stroke="#555" stroke-width="0.55"/>
<circle cx="295" cy="405.9" r="2.2" fill="#fff" stroke="#555" stroke-width="0.55"/>
<circle cx="295" cy="422.2" r="2.2" fill="#fff" stroke="#555" stroke-width="0.55"/>
<circle cx="314" cy="380.4" r="2.2" fill="#fff" stroke="#555" stroke-width="0.55"/>
<circle cx="325.7" cy="379.2" r="2.2" fill="#fff" stroke="#555" stroke-width="0.55"/>
<circle cx="319.5" cy="398.2" r="2.2" fill="#fff" stroke="#555" stroke-width="0.55"/>
<circle cx="319.5" cy="420.6" r="2.2" fill="#fff" stroke="#555" stroke-width="0.55"/>
<path d="M245.6 403.7V320H266.4V334.4" fill="none" stroke="#666" stroke-width="0.8"/>
<text transform="translate(253.1,315.3) scale(0.91,1)" font-size="8.8" text-anchor="middle" ><tspan font-style="italic">P</tspan> = 0.0003</text>
<path d="M274.1 327.6V321.5H319.5V366" fill="none" stroke="#666" stroke-width="0.8"/>
<text transform="translate(298.7,316.6) scale(0.91,1)" font-size="8.8" text-anchor="middle" ><tspan font-style="italic">P</tspan> = 0.028</text>
<path d="M274.1 350.6V344.5H295.6V371.2" fill="none" stroke="#666" stroke-width="0.8"/>
<text transform="translate(284.3,341.4) scale(0.91,1)" font-size="8.8" text-anchor="middle" ><tspan font-style="italic">P</tspan> = 0.011</text>
<line x1="404.7" y1="322.6" x2="404.7" y2="430.2" stroke="#666" stroke-width="0.8"/>
<line x1="399.7" y1="430.2" x2="512.7" y2="430.2" stroke="#666" stroke-width="0.8"/>
<line x1="399.7" y1="430.2" x2="404.7" y2="430.2" stroke="#666" stroke-width="0.8"/>
<text transform="translate(395.7,433) scale(0.91,1)" font-size="8.8" text-anchor="end" >0</text>
<line x1="399.7" y1="403.3" x2="404.7" y2="403.3" stroke="#666" stroke-width="0.8"/>
<text transform="translate(395.7,406.1) scale(0.91,1)" font-size="8.8" text-anchor="end" >0.05</text>
<line x1="399.7" y1="376.4" x2="404.7" y2="376.4" stroke="#666" stroke-width="0.8"/>
<text transform="translate(395.7,379.2) scale(0.91,1)" font-size="8.8" text-anchor="end" >0.10</text>
<line x1="399.7" y1="349.5" x2="404.7" y2="349.5" stroke="#666" stroke-width="0.8"/>
<text transform="translate(395.7,352.3) scale(0.91,1)" font-size="8.8" text-anchor="end" >0.15</text>
<line x1="399.7" y1="322.6" x2="404.7" y2="322.6" stroke="#666" stroke-width="0.8"/>
<text transform="translate(395.7,325.4) scale(0.91,1)" font-size="8.8" text-anchor="end" >0.20</text>
<text transform="translate(362,376.4) rotate(-90) scale(0.91,1)" font-size="8.8" text-anchor="middle"><tspan x="0" y="0">GMP (m+5)</tspan><tspan x="0" y="10">fraction labelled</tspan></text>
<rect x="413.6" y="413.52" width="15.6" height="16.68" fill="#f3a3aa" stroke="#555" stroke-width="0.5"/>
<rect x="438.4" y="375.32" width="15.6" height="54.88" fill="#ec3b49" stroke="#555" stroke-width="0.5"/>
<rect x="463.2" y="416.48" width="15.6" height="13.72" fill="#6b9dd2" stroke="#555" stroke-width="0.5"/>
<rect x="488.1" y="415.14" width="15.6" height="15.06" fill="#0751a3" stroke="#555" stroke-width="0.5"/>
<line x1="421.4" y1="415.67" x2="421.4" y2="411.37" stroke="#2a2a2a" stroke-width="0.8"/>
<line x1="417.1" y1="415.67" x2="425.7" y2="415.67" stroke="#2a2a2a" stroke-width="0.8"/>
<line x1="417.1" y1="411.37" x2="425.7" y2="411.37" stroke="#2a2a2a" stroke-width="0.8"/>
<line x1="446.2" y1="378.55" x2="446.2" y2="371.02" stroke="#2a2a2a" stroke-width="0.8"/>
<line x1="441.9" y1="378.55" x2="450.5" y2="378.55" stroke="#2a2a2a" stroke-width="0.8"/>
<line x1="441.9" y1="371.02" x2="450.5" y2="371.02" stroke="#2a2a2a" stroke-width="0.8"/>
<line x1="471" y1="420.52" x2="471" y2="411.37" stroke="#2a2a2a" stroke-width="0.8"/>
<line x1="466.7" y1="420.52" x2="475.3" y2="420.52" stroke="#2a2a2a" stroke-width="0.8"/>
<line x1="466.7" y1="411.37" x2="475.3" y2="411.37" stroke="#2a2a2a" stroke-width="0.8"/>
<line x1="495.9" y1="420.52" x2="495.9" y2="409.22" stroke="#2a2a2a" stroke-width="0.8"/>
<line x1="491.6" y1="420.52" x2="500.2" y2="420.52" stroke="#2a2a2a" stroke-width="0.8"/>
<line x1="491.6" y1="409.22" x2="500.2" y2="409.22" stroke="#2a2a2a" stroke-width="0.8"/>
<circle cx="415.4" cy="415.8" r="2.2" fill="#fff" stroke="#555" stroke-width="0.55"/>
<circle cx="419.3" cy="412.3" r="2.2" fill="#fff" stroke="#555" stroke-width="0.55"/>
<circle cx="423.3" cy="415.8" r="2.2" fill="#fff" stroke="#555" stroke-width="0.55"/>
<circle cx="427.5" cy="413.1" r="2.2" fill="#fff" stroke="#555" stroke-width="0.55"/>
<circle cx="421.1" cy="407.4" r="2.2" fill="#fff" stroke="#555" stroke-width="0.55"/>
<circle cx="440.4" cy="365" r="2.2" fill="#fff" stroke="#555" stroke-width="0.55"/>
<circle cx="451.8" cy="366" r="2.2" fill="#fff" stroke="#555" stroke-width="0.55"/>
<circle cx="445.6" cy="373.7" r="2.2" fill="#fff" stroke="#555" stroke-width="0.55"/>
<circle cx="440.4" cy="383.5" r="2.2" fill="#fff" stroke="#555" stroke-width="0.55"/>
<circle cx="451.8" cy="383.5" r="2.2" fill="#fff" stroke="#555" stroke-width="0.55"/>
<circle cx="465" cy="409" r="2.2" fill="#fff" stroke="#555" stroke-width="0.55"/>
<circle cx="476.3" cy="408" r="2.2" fill="#fff" stroke="#555" stroke-width="0.55"/>
<circle cx="471.1" cy="417.6" r="2.2" fill="#fff" stroke="#555" stroke-width="0.55"/>
<circle cx="471.1" cy="425.2" r="2.2" fill="#fff" stroke="#555" stroke-width="0.55"/>
<circle cx="495.7" cy="401.9" r="2.2" fill="#fff" stroke="#555" stroke-width="0.55"/>
<circle cx="494.8" cy="409" r="2.2" fill="#fff" stroke="#555" stroke-width="0.55"/>
<circle cx="494.8" cy="420.3" r="2.2" fill="#fff" stroke="#555" stroke-width="0.55"/>
<circle cx="494.8" cy="425.2" r="2.2" fill="#fff" stroke="#555" stroke-width="0.55"/>
<path d="M421.1 396.7V315.3H441.7V333.1" fill="none" stroke="#666" stroke-width="0.8"/>
<text transform="translate(423.9,312.3) scale(0.91,1)" font-size="8.8" text-anchor="middle" ><tspan font-style="italic">P</tspan> &lt; 0.0001</text>
<path d="M446.3 323V315.3H495.7V385.3" fill="none" stroke="#666" stroke-width="0.8"/>
<text transform="translate(470.3,312.3) scale(0.91,1)" font-size="8.8" text-anchor="middle" ><tspan font-style="italic">P</tspan> &lt; 0.0001</text>
<path d="M450.2 361.4V352.8H470.2V389.6" fill="none" stroke="#666" stroke-width="0.8"/>
<text transform="translate(459.9,349.7) scale(0.91,1)" font-size="8.8" text-anchor="middle" ><tspan font-style="italic">P</tspan> &lt; 0.0001</text>
<text transform="translate(530,315.2) scale(0.95,1)" font-size="8.4">Tissue</text>
<rect x="529.4" y="323.2" width="5.3" height="5.3" fill="#f3a3aa" stroke="#555" stroke-width="0.5"/>
<text transform="translate(539,329) scale(0.95,1)" font-size="8.4">MFP</text>
<rect x="529.4" y="338.3" width="5.3" height="5.3" fill="#ec3b49" stroke="#555" stroke-width="0.5"/>
<text transform="translate(539,344.1) scale(0.95,1)" font-size="8.4">MFP tumour</text>
<rect x="529.4" y="353.4" width="5.3" height="5.3" fill="#6b9dd2" stroke="#555" stroke-width="0.5"/>
<text transform="translate(539,359.2) scale(0.95,1)" font-size="8.4">Brain</text>
<rect x="529.4" y="368.5" width="5.3" height="5.3" fill="#0751a3" stroke="#555" stroke-width="0.5"/>
<text transform="translate(539,374.3) scale(0.95,1)" font-size="8.4">Brain tumour</text>
<line x1="382.4" y1="11.6" x2="382.4" y2="127.3" stroke="#666" stroke-width="0.8"/>
<line x1="379.4" y1="124.3" x2="494.6" y2="124.3" stroke="#666" stroke-width="0.8"/>
<line x1="379.4" y1="124.3" x2="382.4" y2="124.3" stroke="#666" stroke-width="0.8"/>
<text transform="translate(375.1,127.1) scale(0.91,1)" font-size="8.8" text-anchor="end" >0</text>
<line x1="379.4" y1="101.76" x2="382.4" y2="101.76" stroke="#666" stroke-width="0.8"/>
<text transform="translate(375.1,104.56) scale(0.91,1)" font-size="8.8" text-anchor="end" >0.2</text>
<line x1="379.4" y1="79.22" x2="382.4" y2="79.22" stroke="#666" stroke-width="0.8"/>
<text transform="translate(375.1,82.02) scale(0.91,1)" font-size="8.8" text-anchor="end" >0.4</text>
<line x1="379.4" y1="56.68" x2="382.4" y2="56.68" stroke="#666" stroke-width="0.8"/>
<text transform="translate(375.1,59.48) scale(0.91,1)" font-size="8.8" text-anchor="end" >0.6</text>
<line x1="379.4" y1="34.14" x2="382.4" y2="34.14" stroke="#666" stroke-width="0.8"/>
<text transform="translate(375.1,36.94) scale(0.91,1)" font-size="8.8" text-anchor="end" >0.8</text>
<line x1="379.4" y1="11.6" x2="382.4" y2="11.6" stroke="#666" stroke-width="0.8"/>
<text transform="translate(375.1,14.4) scale(0.91,1)" font-size="8.8" text-anchor="end" >1.0</text>
<line x1="382.4" y1="124.3" x2="382.4" y2="127.3" stroke="#666" stroke-width="0.8"/>
<text transform="translate(382.4,136.8) scale(0.91,1)" font-size="8.8" text-anchor="middle" >0</text>
<line x1="401.1" y1="124.3" x2="401.1" y2="127.3" stroke="#666" stroke-width="0.8"/>
<text transform="translate(401.1,136.8) scale(0.91,1)" font-size="8.8" text-anchor="middle" >2</text>
<line x1="419.8" y1="124.3" x2="419.8" y2="127.3" stroke="#666" stroke-width="0.8"/>
<text transform="translate(419.8,136.8) scale(0.91,1)" font-size="8.8" text-anchor="middle" >4</text>
<line x1="438.5" y1="124.3" x2="438.5" y2="127.3" stroke="#666" stroke-width="0.8"/>
<text transform="translate(438.5,136.8) scale(0.91,1)" font-size="8.8" text-anchor="middle" >6</text>
<line x1="457.2" y1="124.3" x2="457.2" y2="127.3" stroke="#666" stroke-width="0.8"/>
<text transform="translate(457.2,136.8) scale(0.91,1)" font-size="8.8" text-anchor="middle" >8</text>
<line x1="475.9" y1="124.3" x2="475.9" y2="127.3" stroke="#666" stroke-width="0.8"/>
<text transform="translate(475.9,136.8) scale(0.91,1)" font-size="8.8" text-anchor="middle" >10</text>
<line x1="494.6" y1="124.3" x2="494.6" y2="127.3" stroke="#666" stroke-width="0.8"/>
<text transform="translate(494.6,136.8) scale(0.91,1)" font-size="8.8" text-anchor="middle" >12</text>
<text transform="translate(438.4,150) scale(0.91,1)" font-size="8.8" text-anchor="middle" >Time (h)</text>
<text transform="translate(347.5,67.95) rotate(-90) scale(0.91,1)" font-size="8.8" text-anchor="middle"><tspan x="0" y="0">Glucose fraction labelled</tspan><tspan x="0" y="8.5">in the MFP</tspan></text>
<polyline points="391.75,79.22 401.1,70.65 419.8,66.48 475.9,48.79" fill="none" stroke="#e8414f" stroke-width="0.9"/>
<line x1="401.1" y1="72.91" x2="401.1" y2="68.4" stroke="#e8414f" stroke-width="1"/>
<line x1="398.6" y1="72.91" x2="403.6" y2="72.91" stroke="#e8414f" stroke-width="1"/>
<line x1="398.6" y1="68.4" x2="403.6" y2="68.4" stroke="#e8414f" stroke-width="1"/>
<line x1="475.9" y1="57.36" x2="475.9" y2="40.23" stroke="#e8414f" stroke-width="1"/>
<line x1="473.4" y1="57.36" x2="478.4" y2="57.36" stroke="#e8414f" stroke-width="1"/>
<line x1="473.4" y1="40.23" x2="478.4" y2="40.23" stroke="#e8414f" stroke-width="1"/>
<rect x="389.55" y="77.02" width="4.4" height="4.4" fill="#e8414f"/>
<rect x="398.9" y="68.45" width="4.4" height="4.4" fill="#e8414f"/>
<rect x="417.6" y="64.28" width="4.4" height="4.4" fill="#e8414f"/>
<rect x="473.7" y="46.59" width="4.4" height="4.4" fill="#e8414f"/>
<polyline points="391.75,68.51 401.1,84.29 419.8,91.17 475.9,102.89" fill="none" stroke="#1c5ca6" stroke-width="0.9"/>
<line x1="401.1" y1="87.11" x2="401.1" y2="81.47" stroke="#1c5ca6" stroke-width="1"/>
<line x1="398.6" y1="87.11" x2="403.6" y2="87.11" stroke="#1c5ca6" stroke-width="1"/>
<line x1="398.6" y1="81.47" x2="403.6" y2="81.47" stroke="#1c5ca6" stroke-width="1"/>
<line x1="475.9" y1="109.99" x2="475.9" y2="95.79" stroke="#1c5ca6" stroke-width="1"/>
<line x1="473.4" y1="109.99" x2="478.4" y2="109.99" stroke="#1c5ca6" stroke-width="1"/>
<line x1="473.4" y1="95.79" x2="478.4" y2="95.79" stroke="#1c5ca6" stroke-width="1"/>
<circle cx="391.75" cy="68.51" r="2.3" fill="#1c5ca6"/>
<circle cx="401.1" cy="84.29" r="2.3" fill="#1c5ca6"/>
<circle cx="419.8" cy="91.17" r="2.3" fill="#1c5ca6"/>
<circle cx="475.9" cy="102.89" r="2.3" fill="#1c5ca6"/>
<line x1="395.7" y1="24.3" x2="410" y2="24.3" stroke="#e8414f" stroke-width="0.9"/>
<rect x="400.4" y="22.1" width="4.4" height="4.4" fill="#e8414f"/>
<text transform="translate(415.8,27) scale(0.91,1)" font-size="8.8" text-anchor="start" >m+6</text>
<line x1="395.7" y1="37.5" x2="410" y2="37.5" stroke="#1c5ca6" stroke-width="0.9"/>
<circle cx="402.6" cy="37.5" r="2.3" fill="#1c5ca6"/>
<text transform="translate(415.8,40.2) scale(0.91,1)" font-size="8.8" text-anchor="start" >m+0</text>
<line x1="548.6" y1="11.6" x2="548.6" y2="127.3" stroke="#666" stroke-width="0.8"/>
<line x1="545.6" y1="124.3" x2="660.8" y2="124.3" stroke="#666" stroke-width="0.8"/>
<line x1="545.6" y1="124.3" x2="548.6" y2="124.3" stroke="#666" stroke-width="0.8"/>
<text transform="translate(541.3,127.1) scale(0.91,1)" font-size="8.8" text-anchor="end" >0</text>
<line x1="545.6" y1="101.76" x2="548.6" y2="101.76" stroke="#666" stroke-width="0.8"/>
<text transform="translate(541.3,104.56) scale(0.91,1)" font-size="8.8" text-anchor="end" >0.2</text>
<line x1="545.6" y1="79.22" x2="548.6" y2="79.22" stroke="#666" stroke-width="0.8"/>
<text transform="translate(541.3,82.02) scale(0.91,1)" font-size="8.8" text-anchor="end" >0.4</text>
<line x1="545.6" y1="56.68" x2="548.6" y2="56.68" stroke="#666" stroke-width="0.8"/>
<text transform="translate(541.3,59.48) scale(0.91,1)" font-size="8.8" text-anchor="end" >0.6</text>
<line x1="545.6" y1="34.14" x2="548.6" y2="34.14" stroke="#666" stroke-width="0.8"/>
<text transform="translate(541.3,36.94) scale(0.91,1)" font-size="8.8" text-anchor="end" >0.8</text>
<line x1="545.6" y1="11.6" x2="548.6" y2="11.6" stroke="#666" stroke-width="0.8"/>
<text transform="translate(541.3,14.4) scale(0.91,1)" font-size="8.8" text-anchor="end" >1.0</text>
<line x1="548.6" y1="124.3" x2="548.6" y2="127.3" stroke="#666" stroke-width="0.8"/>
<text transform="translate(548.6,136.8) scale(0.91,1)" font-size="8.8" text-anchor="middle" >0</text>
<line x1="567.3" y1="124.3" x2="567.3" y2="127.3" stroke="#666" stroke-width="0.8"/>
<text transform="translate(567.3,136.8) scale(0.91,1)" font-size="8.8" text-anchor="middle" >2</text>
<line x1="586" y1="124.3" x2="586" y2="127.3" stroke="#666" stroke-width="0.8"/>
<text transform="translate(586,136.8) scale(0.91,1)" font-size="8.8" text-anchor="middle" >4</text>
<line x1="604.7" y1="124.3" x2="604.7" y2="127.3" stroke="#666" stroke-width="0.8"/>
<text transform="translate(604.7,136.8) scale(0.91,1)" font-size="8.8" text-anchor="middle" >6</text>
<line x1="623.4" y1="124.3" x2="623.4" y2="127.3" stroke="#666" stroke-width="0.8"/>
<text transform="translate(623.4,136.8) scale(0.91,1)" font-size="8.8" text-anchor="middle" >8</text>
<line x1="642.1" y1="124.3" x2="642.1" y2="127.3" stroke="#666" stroke-width="0.8"/>
<text transform="translate(642.1,136.8) scale(0.91,1)" font-size="8.8" text-anchor="middle" >10</text>
<line x1="660.8" y1="124.3" x2="660.8" y2="127.3" stroke="#666" stroke-width="0.8"/>
<text transform="translate(660.8,136.8) scale(0.91,1)" font-size="8.8" text-anchor="middle" >12</text>
<text transform="translate(604.6,150) scale(0.91,1)" font-size="8.8" text-anchor="middle" >Time (h)</text>
<text transform="translate(514.3,67.95) rotate(-90) scale(0.91,1)" font-size="8.8" text-anchor="middle"><tspan x="0" y="0">Glucose fraction labelled</tspan><tspan x="0" y="8.5">in the brain</tspan></text>
<polyline points="557.95,99.51 567.3,93.42 586,76.97 642.1,65.02" fill="none" stroke="#e8414f" stroke-width="0.9"/>
<line x1="557.95" y1="108.52" x2="557.95" y2="90.49" stroke="#f08890" stroke-width="1"/>
<line x1="555.45" y1="108.52" x2="560.45" y2="108.52" stroke="#f08890" stroke-width="1"/>
<line x1="555.45" y1="90.49" x2="560.45" y2="90.49" stroke="#f08890" stroke-width="1"/>
<line x1="567.3" y1="104.13" x2="567.3" y2="82.71" stroke="#f08890" stroke-width="1"/>
<line x1="564.8" y1="104.13" x2="569.8" y2="104.13" stroke="#f08890" stroke-width="1"/>
<line x1="564.8" y1="82.71" x2="569.8" y2="82.71" stroke="#f08890" stroke-width="1"/>
<line x1="586" y1="89.93" x2="586" y2="64.01" stroke="#f08890" stroke-width="1"/>
<line x1="583.5" y1="89.93" x2="588.5" y2="89.93" stroke="#f08890" stroke-width="1"/>
<line x1="583.5" y1="64.01" x2="588.5" y2="64.01" stroke="#f08890" stroke-width="1"/>
<line x1="642.1" y1="81.14" x2="642.1" y2="48.9" stroke="#f08890" stroke-width="1"/>
<line x1="639.6" y1="81.14" x2="644.6" y2="81.14" stroke="#f08890" stroke-width="1"/>
<line x1="639.6" y1="48.9" x2="644.6" y2="48.9" stroke="#f08890" stroke-width="1"/>
<rect x="555.75" y="97.31" width="4.4" height="4.4" fill="#e8414f"/>
<rect x="565.1" y="91.22" width="4.4" height="4.4" fill="#e8414f"/>
<rect x="583.8" y="74.77" width="4.4" height="4.4" fill="#e8414f"/>
<rect x="639.9" y="62.82" width="4.4" height="4.4" fill="#e8414f"/>
<polyline points="557.95,41.8 567.3,51.83 586,72.91 642.1,86.77" fill="none" stroke="#1c5ca6" stroke-width="0.9"/>
<line x1="557.95" y1="52.85" x2="557.95" y2="30.76" stroke="#6d9ed6" stroke-width="1"/>
<line x1="555.45" y1="52.85" x2="560.45" y2="52.85" stroke="#6d9ed6" stroke-width="1"/>
<line x1="555.45" y1="30.76" x2="560.45" y2="30.76" stroke="#6d9ed6" stroke-width="1"/>
<line x1="567.3" y1="66.48" x2="567.3" y2="37.18" stroke="#6d9ed6" stroke-width="1"/>
<line x1="564.8" y1="66.48" x2="569.8" y2="66.48" stroke="#6d9ed6" stroke-width="1"/>
<line x1="564.8" y1="37.18" x2="569.8" y2="37.18" stroke="#6d9ed6" stroke-width="1"/>
<line x1="586" y1="87.67" x2="586" y2="58.15" stroke="#6d9ed6" stroke-width="1"/>
<line x1="583.5" y1="87.67" x2="588.5" y2="87.67" stroke="#6d9ed6" stroke-width="1"/>
<line x1="583.5" y1="58.15" x2="588.5" y2="58.15" stroke="#6d9ed6" stroke-width="1"/>
<line x1="642.1" y1="106.49" x2="642.1" y2="67.05" stroke="#6d9ed6" stroke-width="1"/>
<line x1="639.6" y1="106.49" x2="644.6" y2="106.49" stroke="#6d9ed6" stroke-width="1"/>
<line x1="639.6" y1="67.05" x2="644.6" y2="67.05" stroke="#6d9ed6" stroke-width="1"/>
<circle cx="557.95" cy="41.8" r="2.3" fill="#1c5ca6"/>
<circle cx="567.3" cy="51.83" r="2.3" fill="#1c5ca6"/>
<circle cx="586" cy="72.91" r="2.3" fill="#1c5ca6"/>
<circle cx="642.1" cy="86.77" r="2.3" fill="#1c5ca6"/>
</svg>
</body></html>
